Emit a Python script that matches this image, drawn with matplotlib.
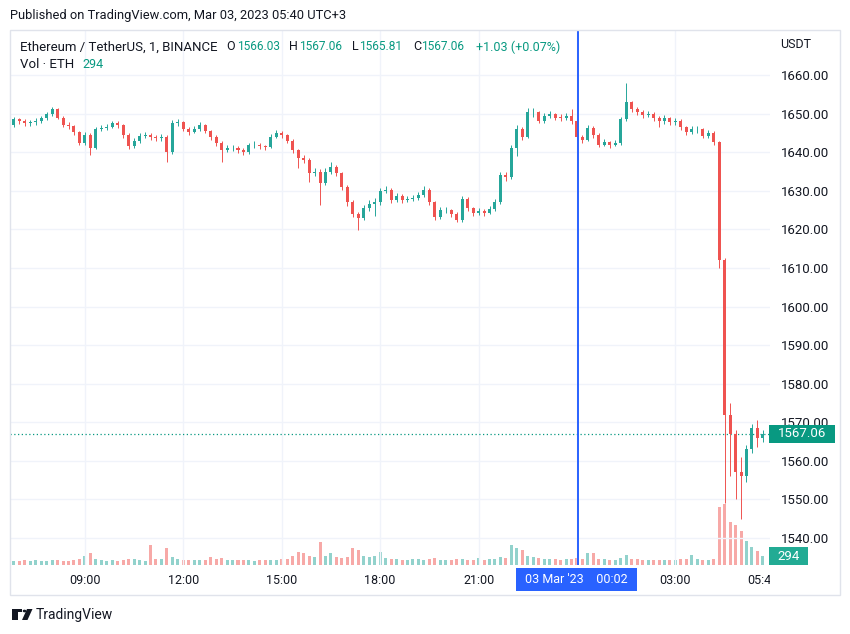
import pandas as pd
import numpy as np
import matplotlib
matplotlib.use("Agg")
import matplotlib.pyplot as plt
import matplotlib.dates as mdates
from matplotlib.patches import Rectangle, Polygon, Circle

plt.rcParams['font.family'] = ['Roboto', 'DejaVu Sans']

# ETH/USDT, 10-minute bars (first bar 2023-03-02 06:50)
first_open = 1647.0
closes = [
    1648.5, 1648.0, 1647.5, 1647.8, 1648.0, 1648.8, 1649.8, 1651.2, 1649.0, 1647.2,
    1646.8, 1645.2, 1642.5, 1644.5, 1641.0, 1646.0, 1646.3, 1646.6, 1647.5, 1647.0,
    1644.5, 1641.5, 1643.0, 1644.3, 1644.5, 1644.0, 1643.6, 1644.0, 1640.0, 1647.5,
    1647.8, 1646.0, 1645.3, 1646.0, 1647.0, 1645.5, 1644.0, 1642.3, 1640.6, 1641.0,
    1641.2, 1640.6, 1640.0, 1641.8, 1642.0, 1641.5, 1641.3, 1644.0, 1645.0, 1644.4,
    1643.0, 1640.5, 1638.5, 1638.0, 1634.5, 1635.0, 1632.0, 1635.0, 1636.2, 1634.6,
    1631.0, 1627.0, 1624.0, 1623.0, 1625.5, 1626.5, 1627.0, 1630.0, 1630.3, 1627.5,
    1628.7, 1627.6, 1627.9, 1628.1, 1628.8, 1630.3, 1627.0, 1623.2, 1625.0, 1625.0,
    1624.0, 1622.4, 1628.0, 1625.5, 1624.3, 1624.8, 1624.3, 1625.3, 1627.0, 1634.0,
    1633.5, 1641.0, 1646.0, 1644.0, 1650.4, 1650.4, 1648.2, 1649.3, 1649.8, 1649.0,
    1648.9, 1649.5, 1648.0, 1644.0, 1643.2, 1646.3, 1644.5, 1642.0, 1642.6, 1642.0,
    1642.5, 1648.5, 1653.0, 1651.2, 1650.4, 1649.7, 1650.0, 1649.0, 1648.0, 1648.8,
    1647.8, 1648.2, 1646.5, 1645.3, 1646.0, 1646.0, 1644.3, 1645.0, 1642.7, 1612.0,
    1572.0, 1567.0, 1557.0, 1556.0, 1563.0, 1568.5, 1566.0, 1567.06,
]
highs = [
    1649.2, 1649.0, 1648.5, 1648.4, 1648.8, 1649.4, 1650.4, 1651.8, 1651.5, 1649.5,
    1647.8, 1647.2, 1645.6, 1645.3, 1645.0, 1646.6, 1647.0, 1647.3, 1648.2, 1648.0,
    1647.4, 1645.0, 1643.8, 1645.0, 1645.2, 1645.0, 1644.6, 1644.8, 1644.4, 1648.3,
    1648.6, 1648.0, 1646.5, 1646.8, 1647.8, 1647.4, 1645.9, 1644.4, 1642.8, 1641.8,
    1642.0, 1641.6, 1641.0, 1642.5, 1642.8, 1642.4, 1642.0, 1644.8, 1645.8, 1645.6,
    1644.8, 1643.4, 1640.9, 1639.2, 1638.4, 1636.0, 1635.6, 1635.8, 1637.4, 1636.6,
    1635.0, 1631.4, 1627.5, 1624.6, 1626.4, 1627.6, 1628.2, 1630.8, 1631.2, 1630.7,
    1629.5, 1629.2, 1628.7, 1628.9, 1629.6, 1631.2, 1630.7, 1627.4, 1625.8, 1625.9,
    1625.4, 1624.4, 1628.7, 1628.4, 1625.9, 1625.6, 1625.2, 1626.0, 1627.8, 1634.8,
    1635.0, 1641.8, 1647.0, 1646.6, 1651.4, 1651.5, 1650.8, 1650.2, 1650.6, 1650.2,
    1649.8, 1650.3, 1651.3, 1648.4, 1644.6, 1647.0, 1646.8, 1644.9, 1643.4, 1643.0,
    1643.2, 1649.2, 1657.9, 1653.4, 1651.8, 1650.9, 1650.8, 1650.4, 1649.4, 1649.6,
    1649.2, 1649.0, 1648.6, 1646.9, 1646.8, 1646.9, 1646.4, 1645.8, 1645.4, 1643.0,
    1612.5, 1575.0, 1568.0, 1561.0, 1564.0, 1569.5, 1570.5, 1568.0,
]
lows = [
    1646.5, 1647.3, 1646.8, 1646.9, 1647.2, 1647.6, 1648.3, 1649.5, 1648.5, 1646.5,
    1646.0, 1644.6, 1641.8, 1642.0, 1639.3, 1640.8, 1645.4, 1645.8, 1646.2, 1646.3,
    1643.8, 1640.8, 1641.0, 1642.5, 1643.6, 1643.2, 1642.9, 1643.0, 1637.5, 1639.6,
    1646.8, 1645.4, 1644.6, 1645.0, 1645.6, 1644.9, 1643.3, 1641.6, 1637.5, 1640.0,
    1640.4, 1639.9, 1639.2, 1639.6, 1641.2, 1640.8, 1640.6, 1641.0, 1643.6, 1643.8,
    1642.3, 1639.8, 1636.0, 1637.2, 1632.3, 1633.8, 1626.3, 1631.5, 1634.4, 1633.8,
    1630.2, 1626.2, 1623.2, 1619.8, 1622.4, 1624.8, 1623.5, 1626.4, 1629.4, 1626.8,
    1627.0, 1626.9, 1627.0, 1627.3, 1627.6, 1628.4, 1626.3, 1622.4, 1622.8, 1624.2,
    1623.3, 1621.8, 1622.0, 1624.8, 1623.6, 1623.8, 1623.5, 1623.9, 1624.9, 1626.6,
    1632.6, 1633.0, 1639.0, 1643.2, 1643.6, 1649.2, 1647.5, 1647.6, 1648.8, 1648.3,
    1648.1, 1648.4, 1647.4, 1643.2, 1642.3, 1642.8, 1643.8, 1641.3, 1641.5, 1641.2,
    1641.6, 1642.0, 1648.0, 1650.5, 1649.6, 1648.9, 1649.1, 1648.2, 1646.6, 1647.4,
    1647.0, 1647.2, 1645.8, 1644.5, 1644.8, 1645.1, 1643.6, 1643.8, 1642.0, 1610.0,
    1549.0, 1556.0, 1550.0, 1545.0, 1554.5, 1562.0, 1563.5, 1564.8,
]
volumes = [
    140, 120, 150, 130, 160, 140, 130, 170, 150, 140,
    130, 160, 180, 300, 390, 200, 150, 140, 160, 130,
    170, 180, 200, 150, 140, 650, 200, 180, 550, 250,
    180, 160, 150, 170, 160, 150, 260, 200, 220, 160,
    150, 170, 160, 150, 140, 160, 150, 170, 160, 180,
    200, 300, 420, 400, 300, 250, 750, 300, 400, 250,
    230, 260, 550, 490, 300, 250, 280, 420, 230, 200,
    180, 170, 160, 180, 200, 170, 190, 230, 170, 160,
    150, 180, 200, 170, 160, 230, 170, 180, 200, 260,
    240, 650, 550, 490, 300, 250, 220, 200, 180, 190,
    170, 180, 200, 220, 190, 390, 380, 200, 180, 160,
    170, 220, 330, 200, 180, 160, 150, 170, 160, 150,
    170, 160, 180, 200, 330, 180, 170, 160, 180, 1900,
    2000, 1400, 1300, 1100, 800, 600, 450, 294,
]
time_labels = ['09:00', '12:00', '15:00', '18:00', '21:00', '03:00', '05:40']
time_label_stamps = ['2023-03-02 09:00', '2023-03-02 12:00', '2023-03-02 15:00',
                     '2023-03-02 18:00', '2023-03-02 21:00', '2023-03-03 03:00',
                     '2023-03-03 05:40']
price_ticks = [1540, 1550, 1560, 1570, 1580, 1590, 1600, 1610, 1620, 1630, 1640, 1650, 1660]

UP = '#26a69a'
DOWN = '#ef5350'
UP_VOL = '#92d2cc'
DOWN_VOL = '#f7a9a7'
TEXT = '#131722'
GREEN_TXT = '#089981'
GRID = '#f0f3fa'
BLUE = '#2962ff'

times = pd.date_range('2023-03-02 06:50', periods=len(closes), freq='10min')
xs = mdates.date2num(times)
opens = [first_open] + closes[:-1]
bar_w = 10 / 1440 * 0.55

W, H = 850, 634
fig = plt.figure(figsize=(8.5, 6.34), dpi=100)

def fx(px):
    return px / W

def fy(py):
    return 1 - py / H

ax = fig.add_axes([fx(10), fy(565), fx(760), 535 / H])
ax.set_xlim(mdates.date2num(pd.Timestamp('2023-03-02 06:43')),
            mdates.date2num(pd.Timestamp('2023-03-03 05:53')))
ax.set_ylim(1533.0, 1671.7)

# volume overlay (bottom of the pane)
axv = ax.twinx()
axv.set_ylim(0, 294 * 535 / 9)
axv.set_xlim(ax.get_xlim())
vol_colors = [UP_VOL if c >= o else DOWN_VOL for o, c in zip(opens, closes)]
axv.bar(xs, volumes, width=bar_w, color=vol_colors, linewidth=0)
axv.axis('off')

# grid
for t in ['2023-03-02 09:00', '2023-03-02 12:00', '2023-03-02 15:00', '2023-03-02 18:00',
          '2023-03-02 21:00', '2023-03-03 00:00', '2023-03-03 03:00']:
    ax.axvline(mdates.date2num(pd.Timestamp(t)), color=GRID, lw=1, zorder=0)
for p in price_ticks:
    ax.axhline(p, color=GRID, lw=1, zorder=0)

# candles
for x, o, h, l, c in zip(xs, opens, highs, lows, closes):
    col = UP if c >= o else DOWN
    ax.vlines(x, l, h, color=col, lw=0.7, zorder=3)
    ax.add_patch(Rectangle((x - bar_w / 2, min(o, c)), bar_w, max(abs(c - o), 0.15),
                           facecolor=col, edgecolor='none', zorder=4))
ax.set_zorder(axv.get_zorder() + 1)
ax.patch.set_visible(False)

# last price line
last = closes[-1]
ax.axhline(last, color=GREEN_TXT, lw=0.9, ls=(0, (1, 2)), zorder=2)

# crosshair
cross_x = mdates.date2num(pd.Timestamp('2023-03-03 00:02'))
ax.axvline(cross_x, color=BLUE, lw=1.4, zorder=6)

for s in ax.spines.values():
    s.set_visible(False)
ax.set_xticks([])
ax.yaxis.tick_right()
ax.set_yticks(price_ticks)
ax.set_yticklabels([f'{p:.2f}' for p in price_ticks], fontsize=9.5, color=TEXT)
ax.tick_params(axis='y', length=0, pad=8)

# price label box
y_last = ax.transData.transform((0, last))[1]
fig.patches.append(Rectangle((fx(769), y_last / H - 9 / H), 66 / W, 18 / H,
                             transform=fig.transFigure, facecolor=GREEN_TXT,
                             edgecolor='none', zorder=10))
fig.text(fx(802), y_last / H, f'{last:.2f}', color='white', fontsize=9.5,
         ha='center', va='center', zorder=11)
# volume label box
y_vol = axv.transData.transform((0, volumes[-1]))[1]
fig.patches.append(Rectangle((fx(769), y_vol / H - 9 / H), 39 / W, 18 / H,
                             transform=fig.transFigure, facecolor='#22ab94',
                             edgecolor='none', zorder=10))
fig.text(fx(788.5), y_vol / H, str(volumes[-1]), color='white', fontsize=9.5,
         ha='center', va='center', zorder=11)
fig.text(fx(780), fy(44), 'USDT', color=TEXT, fontsize=9, ha='left', va='center')

# time scale
axt = fig.add_axes([fx(10), fy(595), fx(760), 30 / H])
axt.set_xlim(ax.get_xlim())
axt.set_ylim(0, 1)
axt.axis('off')
for lab, st in zip(time_labels, time_label_stamps):
    axt.text(mdates.date2num(pd.Timestamp(st)), 0.5, lab, fontsize=9, color=TEXT,
             ha='center', va='center', clip_on=True)
fig.patches.append(Rectangle((fx(516), fy(591)), 121 / W, 23 / H, transform=fig.transFigure,
                             facecolor=BLUE, edgecolor='none', zorder=10))
fig.text(fx(576.5), fy(579.5), "03 Mar '23    00:02", color='white', fontsize=9,
         ha='center', va='center', zorder=11)

# chart frame
fig.patches.append(Rectangle((fx(10), fy(595)), 830 / W, 565 / H, transform=fig.transFigure,
                             facecolor='none', edgecolor='#e0e3eb', lw=1, zorder=1))

# header texts
fig.text(fx(10), fy(16), 'Published on TradingView.com, Mar 03, 2023 05:40 UTC+3',
         fontsize=9.3, color=TEXT, va='center')
fig.text(fx(20), fy(47), 'Ethereum / TetherUS, 1, BINANCE', fontsize=9.5, color=TEXT, va='center')
header = [('O', 226, '1566.03', 237), ('H', 289, '1567.06', 299),
          ('L', 352, '1565.81', 359), ('C', 413, '1567.06', 421)]
for k, kx, v, vx in header:
    fig.text(fx(kx), fy(47), k, fontsize=9, color=TEXT, va='center')
    fig.text(fx(vx), fy(47), v, fontsize=8.6, color=GREEN_TXT, va='center')
fig.text(fx(476), fy(47), '+1.03 (+0.07%)', fontsize=9, color=GREEN_TXT, va='center')
fig.text(fx(20), fy(65), 'Vol · ETH', fontsize=9.5, color=TEXT, va='center')
fig.text(fx(82), fy(65), '294', fontsize=9, color=GREEN_TXT, va='center')

# logo
fig.patches.append(Rectangle((fx(12), fy(620)), 6 / W, 11 / H, transform=fig.transFigure,
                             facecolor=TEXT, edgecolor='none'))
fig.patches.append(Rectangle((fx(12), fy(612)), 10 / W, 3 / H, transform=fig.transFigure,
                             facecolor=TEXT, edgecolor='none'))
fig.patches.append(Circle((fx(24.5), fy(611)), 1.8 / W, transform=fig.transFigure,
                          facecolor=TEXT, edgecolor='none'))
fig.patches.append(Polygon([(fx(27), fy(609)), (fx(32.5), fy(609)), (fx(27.5), fy(620)),
                            (fx(22), fy(620))], closed=True, transform=fig.transFigure,
                           facecolor=TEXT, edgecolor='none'))
fig.text(fx(36), fy(615), 'TradingView', fontsize=10, color=TEXT, va='center')

fig.savefig('out.png', dpi=100, facecolor='white')
